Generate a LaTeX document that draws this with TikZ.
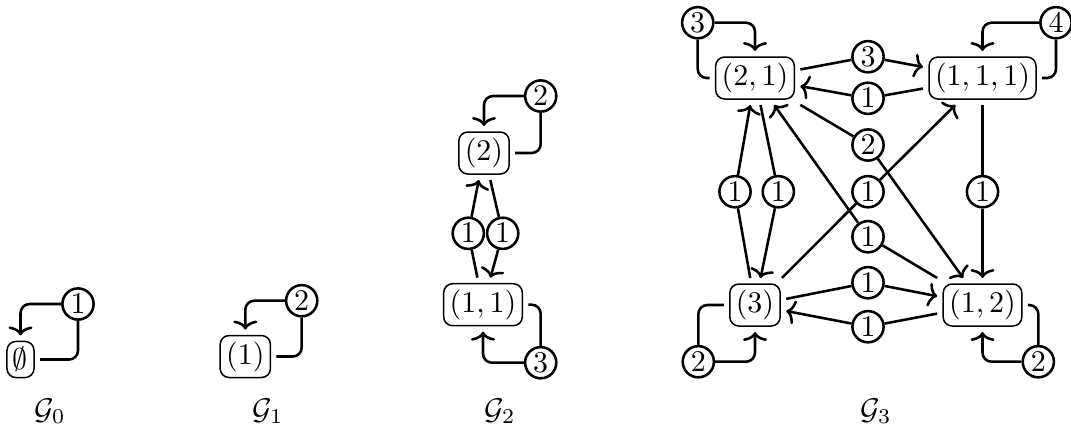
\documentclass[tikz,border=0pt]{standalone}
\usetikzlibrary{arrows.meta}
\tikzset{
  part/.style={draw, rounded corners=3pt, inner sep=2pt, outer sep=2pt, line width=0.5pt},
  lab/.style={circle, draw, line width=0.85pt, inner sep=0.8pt},
  conn/.style={line width=0.85pt},
  tip/.style={-{To[length=3pt,width=8pt]}},
  loopc/.style={conn, rounded corners=3pt},
  gname/.style={anchor=base}
}
\begin{document}
\begin{tikzpicture}[x=0.33333pt, y=-0.33333pt]
\useasboundingbox (0,0) rectangle (1071,426);
% G0
\node[part] (e) at (20.5,359.5) {$\emptyset$};
\node[lab] (l0) at (78,304) {$1$};
\draw[loopc] (e) -| (l0);
\draw[loopc,tip] (l0) -| (e);
\node[gname] (n0) at (50,419) {$\mathcal{G}_0$};
% G1
\node[part] (a1) at (245.3,356.5) {$(1)$};
\node[lab] (l1) at (301.7,300.7) {$2$};
\draw[loopc] (a1) -| (l1);
\draw[loopc,tip] (l1) -| (a1);
\node[gname] (n1) at (268,419) {$\mathcal{G}_1$};
% G2
\node[part] (b2) at (484,153) {$(2)$};
\node[part] (b11) at (483,304.7) {$(1,1)$};
\node[lab] (c2t) at (540.7,96) {$2$};
\node[lab] (c2b) at (540.7,362.7) {$3$};
\node[lab] (m1) at (468.3,233.3) {$1$};
\node[lab] (m2) at (502.7,233.3) {$1$};
\draw[loopc] (b2) -| (c2t);
\draw[loopc,tip] (c2t) -| (b2);
\draw[loopc] (b11) -| (c2b);
\draw[loopc,tip] (c2b) -| (b11);
\draw[conn] (b11) -- (m1);
\draw[conn,tip] (m1) -- (b2);
\draw[conn] (b2) -- (m2);
\draw[conn,tip] (m2) -- (b11);
\node[gname] (n2) at (500,419) {$\mathcal{G}_2$};
% G3
\node[part] (b21) at (755,78) {$(2,1)$};
\node[part] (b111) at (982.5,78) {$(1,1,1)$};
\node[part] (b3) at (755,305) {$(3)$};
\node[part] (b12) at (982.5,305) {$(1,2)$};
\node[lab] (k21) at (697.7,22.7) {$3$};
\node[lab] (k111) at (1056,22.7) {$4$};
\node[lab] (k3) at (698.3,361.7) {$2$};
\node[lab] (k12) at (1038.3,361.7) {$2$};
\node[lab] (t3) at (868,56.7) {$3$};
\node[lab] (t1) at (868,98.3) {$1$};
\node[lab] (d2) at (868,145) {$2$};
\node[lab] (d1a) at (868,191.7) {$1$};
\node[lab] (d1b) at (868,236.7) {$1$};
\node[lab] (h1) at (868,282.7) {$1$};
\node[lab] (h2) at (868,326.7) {$1$};
\node[lab] (v1) at (735,191.7) {$1$};
\node[lab] (v2) at (778.3,191.7) {$1$};
\node[lab] (v3) at (982.5,191.7) {$1$};
\draw[loopc] (b21) -| (k21);
\draw[loopc,tip] (k21) -| (b21);
\draw[loopc] (b111) -| (k111);
\draw[loopc,tip] (k111) -| (b111);
\draw[loopc] (b3) -| (k3);
\draw[loopc,tip] (k3) -| (b3);
\draw[loopc] (b12) -| (k12);
\draw[loopc,tip] (k12) -| (b12);
\draw[conn] (b21) -- (t3);
\draw[conn,tip] (t3) -- (b111);
\draw[conn] (b111) -- (t1);
\draw[conn,tip] (t1) -- (b21);
\draw[conn] (b21) -- (d2);
\draw[conn,tip] (d2) -- (b12);
\draw[conn] (b3) -- (d1a);
\draw[conn,tip] (d1a) -- (b111);
\draw[conn] (b12) -- (d1b);
\draw[conn,tip] (d1b) -- (b21);
\draw[conn] (b3) -- (h1);
\draw[conn,tip] (h1) -- (b12);
\draw[conn] (b12) -- (h2);
\draw[conn,tip] (h2) -- (b3);
\draw[conn] (b3) -- (v1);
\draw[conn,tip] (v1) -- (b21);
\draw[conn] (b21) -- (v2);
\draw[conn,tip] (v2) -- (b3);
\draw[conn] (b111) -- (v3);
\draw[conn,tip] (v3) -- (b12);
\node[gname] (n3) at (876,419) {$\mathcal{G}_3$};
\end{tikzpicture}
\end{document}
